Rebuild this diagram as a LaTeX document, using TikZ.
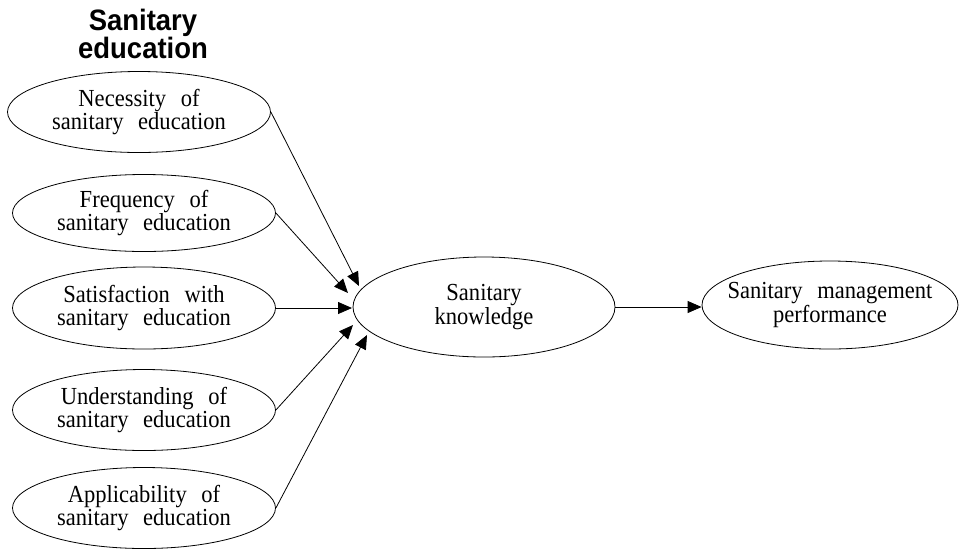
\documentclass[tikz,border=0pt]{standalone}
\usepackage{fontspec}
\setmainfont{Liberation Serif}[WordSpace=2.6,FakeStretch=0.92]
\newfontfamily\titlefont{Liberation Sans}[FakeStretch=0.93]
\usetikzlibrary{shapes.geometric,arrows.meta}
\tikzset{
  oval/.style={draw=black, line width=0.8pt, ellipse, inner sep=0pt, align=center,
    font=\fontsize{24.5}{23.5}\selectfont},
  link/.style={draw=black, line width=0.8pt, -{Triangle[length=14pt,width=12pt]}},
}
\begin{document}
\begin{tikzpicture}[x=1pt,y=-1pt]
\useasboundingbox (0,0) rectangle (960,550);
\node[font=\titlefont\bfseries\fontsize{29.5}{23.5}\selectfont, align=center] (title) at (143,34) {Sanitary\\education};
\node[oval, minimum width=263pt, minimum height=81pt] (nec) at (139,112) {Necessity of\\sanitary education};
\node[oval, minimum width=263pt, minimum height=77pt] (fre) at (144,213) {Frequency of\\sanitary education};
\node[oval, minimum width=263pt, minimum height=82pt] (sat) at (144,308) {Satisfaction with\\sanitary education};
\node[oval, minimum width=263pt, minimum height=81pt] (und) at (144,410) {Understanding of\\sanitary education};
\node[oval, minimum width=263pt, minimum height=81pt] (app) at (144,508) {Applicability of\\sanitary education};
\node[oval, minimum width=262pt, minimum height=100pt] (kn) at (484,307) {Sanitary\\knowledge};
\node[oval, inner xsep=-16pt, inner ysep=-4pt, minimum width=256pt, minimum height=88pt] (mg) at (830,305) {Sanitary management\\performance};
\coordinate (t1) at (359,286);
\coordinate (t2) at (348,293);
\coordinate (t3) at (352,308);
\coordinate (t4) at (353,325);
\coordinate (t5) at (367,335);
\draw[link] (nec.east) -- (t1);
\draw[link] (fre.east) -- (t2);
\draw[link] (sat.east) -- (t3);
\draw[link] (und.east) -- (t4);
\draw[link] (app.east) -- (t5);
\draw[link] (kn.east) -- (kn.east -| mg.west);
\end{tikzpicture}
\end{document}
